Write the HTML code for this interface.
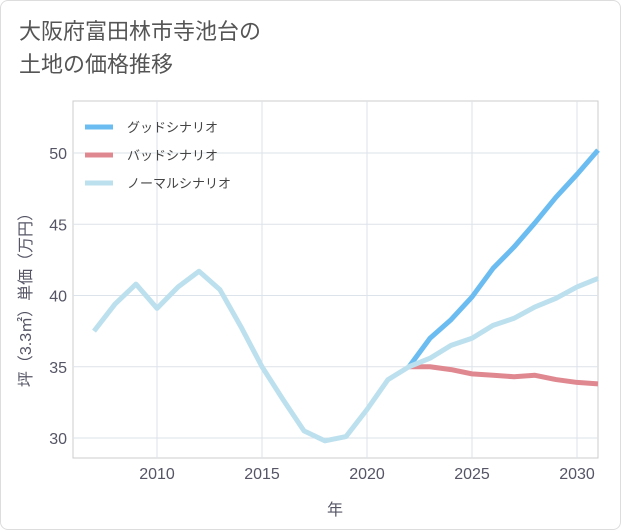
<!DOCTYPE html>
<html><head><meta charset="utf-8"><style>
body{margin:0;background:#fff;}
#card{position:absolute;left:0;top:0;width:619px;height:528px;border:1px solid #ddd;border-radius:8px;background:#fff;font-family:"Liberation Sans","Noto Sans CJK JP",sans-serif;}
#title{position:absolute;left:18px;top:14px;font-size:22px;line-height:33px;color:#555;}
</style></head><body>
<div id="card">
<div id="title">大阪府富田林市寺池台の<br>土地の価格推移</div>
<svg id="chart" width="621" height="530" style="position:absolute;left:0;top:0"></svg>
</div>
<script>
const years=[2007,2008,2009,2010,2011,2012,2013,2014,2015,2016,2017,2018,2019,2020,2021,2022,2023,2024,2025,2026,2027,2028,2029,2030,2031];
const normalVals=[37.5,39.4,40.8,39.1,40.6,41.7,40.4,37.8,35.0,32.7,30.5,29.8,30.1,32.0,34.1,35.0,35.6,36.5,37.0,37.9,38.4,39.2,39.8,40.6,41.2];
const futYears=[2022,2023,2024,2025,2026,2027,2028,2029,2030,2031];
const goodVals=[35.0,37.0,38.3,39.9,41.9,43.4,45.1,46.9,48.5,50.2];
const badVals=[35.0,35.0,34.8,34.5,34.4,34.3,34.4,34.1,33.9,33.8];
const xTicks=[2010,2015,2020,2025,2030];
const yTicks=[30,35,40,45,50];
const NS="http://www.w3.org/2000/svg";
const svg=document.getElementById('chart');
const L=72,R=597,T=100,B=457;
const x=v=>156+(v-2010)*21;
const y=v=>437-(v-30)*14.25;
function mk(t,a){const e=document.createElementNS(NS,t);for(const k in a)e.setAttribute(k,a[k]);svg.appendChild(e);return e;}
const bg=mk('rect',{x:L,y:T,width:R-L,height:B-T,fill:'#fff',stroke:'#ccc'});


xTicks.forEach(v=>{const g=mk('line',{x1:x(v),x2:x(v),y1:T,y2:B,stroke:'#dde3ea'});


const t=mk('text',{x:x(v),y:478,'text-anchor':'middle','font-size':16,fill:'#556'});t.textContent=v;

});
yTicks.forEach(v=>{const g=mk('line',{x1:L,x2:R,y1:y(v),y2:y(v),stroke:'#dde3ea'});


const t=mk('text',{x:66,y:y(v)+6,'text-anchor':'end','font-size':16,fill:'#556'});t.textContent=v;

});
function line(xs,vs,c,name){const p=mk('polyline',{points:xs.map((a,i)=>x(a)+','+y(vs[i])).join(' '),fill:'none',stroke:c,'stroke-width':5,'stroke-linejoin':'round'});

}
line(futYears,badVals,'#e08890','line-bad');
line(futYears,goodVals,'#6bbcf0','line-good');
line(years,normalVals,'#bde0ee','line-normal');
const legend=[['グッドシナリオ','#6bbcf0'],['バッドシナリオ','#e08890'],['ノーマルシナリオ','#bde0ee']];
legend.forEach((l,i)=>{const yy=126+i*28;
const s=mk('line',{x1:84,x2:112,y1:yy,y2:yy,stroke:l[1],'stroke-width':5});


const t=mk('text',{x:126,y:yy+5,'font-size':13,fill:'#444'});t.textContent=l[0];

});
const xt=mk('text',{x:334,y:514,'text-anchor':'middle','font-size':16,fill:'#556'});xt.textContent='年';


const yt=mk('text',{x:0,y:0,'text-anchor':'middle','font-size':16,fill:'#556',transform:'translate(30,295) rotate(-90)'});yt.textContent='坪（3.3㎡）単価（万円）';


</script>
</body></html>
